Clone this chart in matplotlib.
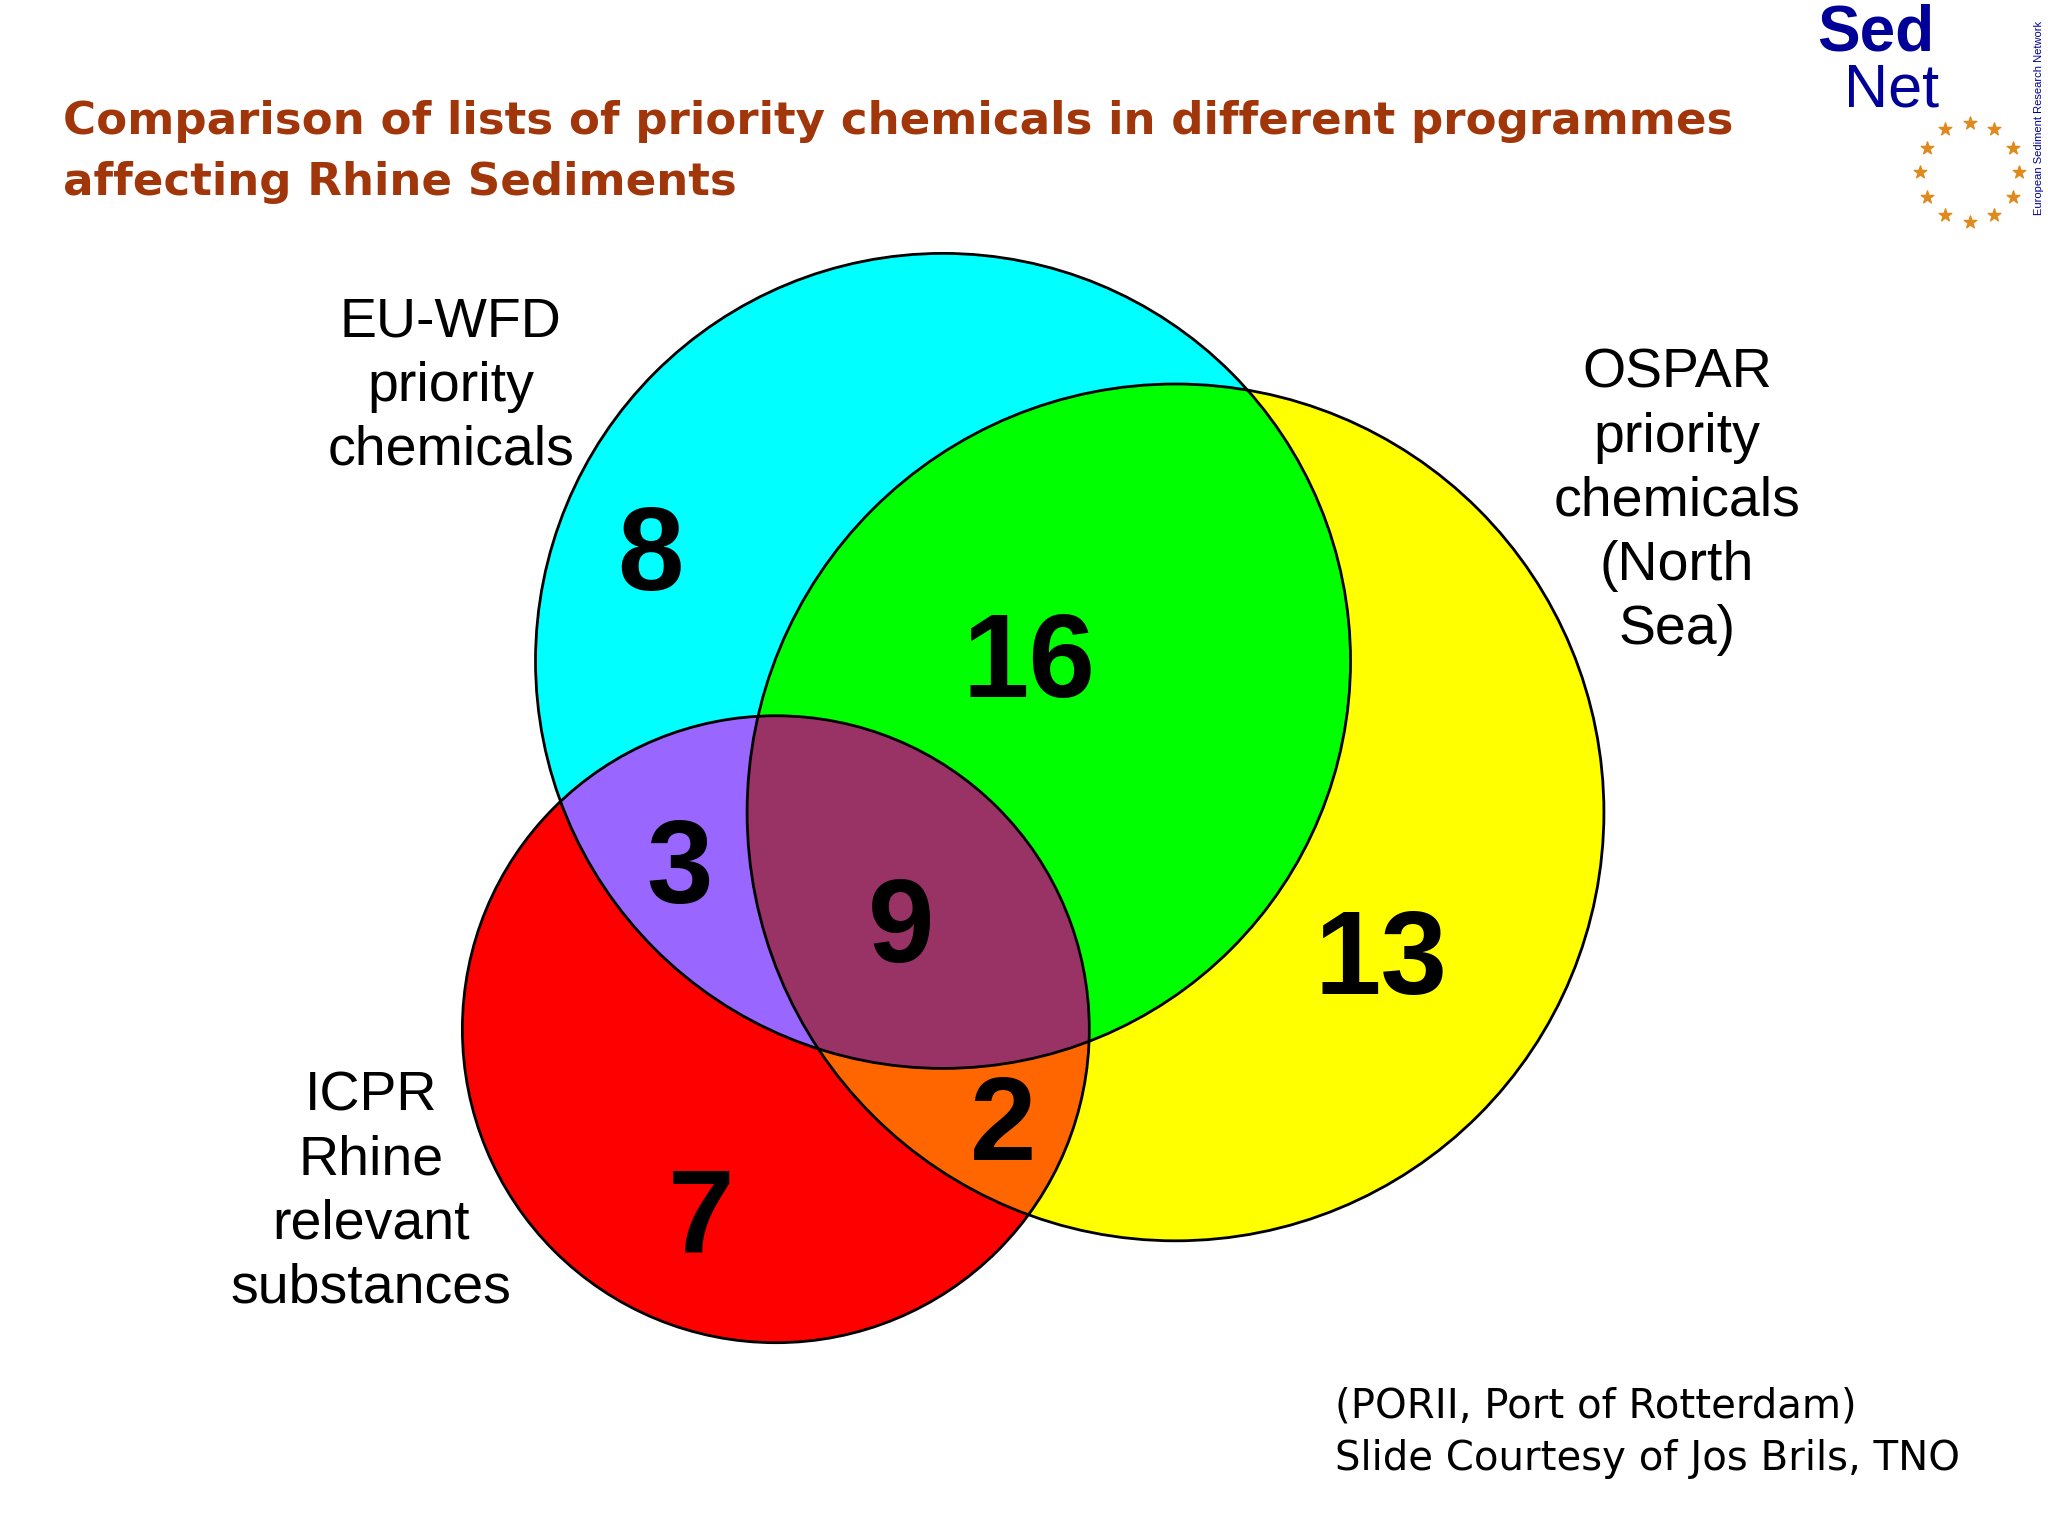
import numpy as np
import matplotlib
matplotlib.use("Agg")
import matplotlib.pyplot as plt
from matplotlib.patches import Circle
from matplotlib.colors import ListedColormap

# Data
set_names = ["EU-WFD\npriority\nchemicals", "OSPAR\npriority\nchemicals\n(North\nSea)",
             "ICPR\nRhine\nrelevant\nsubstances"]
region_labels = ["EU only", "OSPAR only", "ICPR only", "EU+OSPAR", "EU+ICPR", "OSPAR+ICPR", "All"]
region_counts = [8, 13, 7, 16, 3, 2, 9]
region_colors = ["#00FFFF", "#FFFF00", "#FF0000", "#00FF00", "#9966FF", "#FF6600", "#993366"]

W, H = 1568, 1176
fig = plt.figure(figsize=(20.48, 15.36), dpi=100)
ax = fig.add_axes([0, 0, 1, 1])
ax.set_xlim(0, W); ax.set_ylim(H, 0); ax.axis("off")

circles = [((722, 506), 312), ((900, 622), 328), ((594, 788), 240)]
xx, yy = np.meshgrid(np.arange(W) + 0.5, np.arange(H) + 0.5)
ins = [((xx - c[0])**2 + (yy - c[1])**2) <= r**2 for c, r in circles]
A, B, C = ins
reg = np.full((H, W), np.nan)
masks = [A & ~B & ~C, B & ~A & ~C, C & ~A & ~B, A & B & ~C, A & C & ~B, B & C & ~A, A & B & C]
for i, m in enumerate(masks):
    reg[m] = i
ax.imshow(reg, cmap=ListedColormap(region_colors), vmin=-0.5, vmax=6.5,
          extent=(0, W, H, 0), interpolation="nearest", zorder=1)
for c, r in circles:
    ax.add_patch(Circle(c, r, fill=False, ec="black", lw=2, zorder=2))

num_pos = [(498, 428), (1057, 738), (537, 935), (788, 510), (520, 668), (768, 865), (690, 713)]
for (x, y), n in zip(num_pos, region_counts):
    ax.text(x, y, str(n), fontsize=86, fontweight="bold", family="Liberation Sans",
            ha="center", va="center", zorder=3)

lab_pos = [(345, 296), (1284, 384), (284, 913)]
for (x, y), s in zip(lab_pos, set_names):
    ax.text(x, y, s, fontsize=40, family="Liberation Sans", ha="center", va="center",
            linespacing=1.3, zorder=3)

ax.text(48, 93, "Comparison of lists of priority chemicals in different programmes",
        fontsize=32.5, fontweight="bold", color="#A0360A", va="center", family="DejaVu Sans")
ax.text(48, 140, "affecting Rhine Sediments",
        fontsize=32.5, fontweight="bold", color="#A0360A", va="center", family="DejaVu Sans")

ax.text(1022, 1077, "(PORII, Port of Rotterdam)", fontsize=29, va="center", family="DejaVu Sans")
ax.text(1022, 1117, "Slide Courtesy of Jos Brils, TNO", fontsize=29, va="center", family="DejaVu Sans")

# logo
ax.text(1436, 26, "Sed", fontsize=46, fontweight="bold", color="#000099", ha="center", va="center",
        family="Liberation Sans")
ax.text(1448, 70, "Net", fontsize=44, color="#000099", ha="center", va="center", family="Liberation Sans")
ang = np.linspace(0, 2 * np.pi, 13)[:-1]
ax.scatter(1508 + 38 * np.cos(ang), 132 + 38 * np.sin(ang), marker="*", s=90, color="#E08A1E", zorder=3)
ax.text(1561, 90, "European Sediment Research Network", fontsize=8, color="#000099", rotation=90,
        ha="center", va="center", family="Liberation Sans")

fig.savefig("out.png", dpi=100)
